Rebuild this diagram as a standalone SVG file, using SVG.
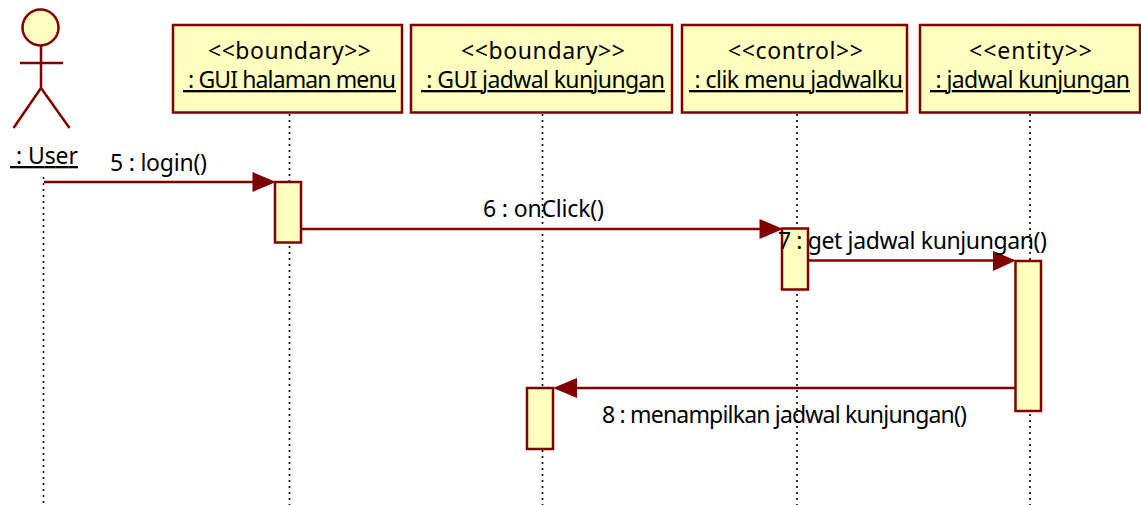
<svg xmlns="http://www.w3.org/2000/svg" width="1141" height="505" viewBox="0 0 1141 505">
<style>
.b{fill:#ffffc0;stroke:#800000;stroke-width:2.500}
.l{fill:none;stroke:#000;stroke-width:1.600;stroke-dasharray:2 4}
.c{fill:none;stroke:#800000;stroke-width:2.500}
.h{fill:#800000;stroke:none}
text{font-family:"Noto Sans","DejaVu Sans",sans-serif;font-size:23px;fill:#000}
.u{text-decoration:underline}
</style>
<rect width="1141" height="505" fill="#fff"/>
<g id="lifelines">
<path class="l" d="M43.500 177V505"/><path class="l" d="M289.500 114V505"/><path class="l" d="M542.500 114V505"/><path class="l" d="M797 114V505"/><path class="l" d="M1030 114V505"/>
</g>
<g id="actor-user"><circle class="b" cx="40.500" cy="27.500" r="18"/><path class="c" d="M41 46V88M20 63H63M41 88L13.500 128M41 88L69.500 128"/><text class="u" x="10" y="164" textLength="68">&#160;: User</text></g>
<g id="n1"><rect class="b" x="173" y="25" width="229" height="87.500"/><text x="208" y="59" textLength="163">&lt;&lt;boundary&gt;&gt;</text><text class="u" x="183" y="88" textLength="213">&#160;: GUI halaman menu</text></g>
<g id="n2"><rect class="b" x="411" y="25" width="261" height="87.500"/><text x="461" y="59" textLength="164">&lt;&lt;boundary&gt;&gt;</text><text class="u" x="421" y="88" textLength="244">&#160;: GUI jadwal kunjungan</text></g>
<g id="n3"><rect class="b" x="682" y="25" width="225" height="87.500"/><text x="728" y="59" textLength="135">&lt;&lt;control&gt;&gt;</text><text class="u" x="689" y="88" textLength="214">&#160;: clik menu jadwalku</text></g>
<g id="n4"><rect class="b" x="920" y="25" width="220" height="87.500"/><text x="969" y="59" textLength="123">&lt;&lt;entity&gt;&gt;</text><text class="u" x="930" y="88" textLength="200">&#160;: jadwal kunjungan</text></g>
<g id="activations">
<rect class="b" x="275" y="182" width="26" height="60.500"/><rect class="b" x="782" y="228.500" width="26" height="61"/><rect class="b" x="1015.500" y="261" width="25.500" height="150"/><rect class="b" x="527" y="388" width="26" height="61"/>
</g>
<g id="connectors">
<path class="c" d="M44 182H262"/><path class="h" d="M276 182L252.500 172V192Z"/>
<path class="c" d="M302 229H770"/><path class="h" d="M783 229L759.500 219V239Z"/>
<path class="c" d="M809 260.500H1005"/><path class="h" d="M1016 260.500L993 251V271Z"/>
<path class="c" d="M1015 388H565"/><path class="h" d="M553 388L577 378V398Z"/>
</g>
<g id="labels">
<text x="110" y="171" textLength="97">5 : login()</text>
<text x="483" y="217" textLength="121">6 : onClick()</text>
<text x="778" y="249" textLength="269">7 : get jadwal kunjungan()</text>
<text x="602" y="423" textLength="365">8 : menampilkan jadwal kunjungan()</text>
</g>
</svg>
